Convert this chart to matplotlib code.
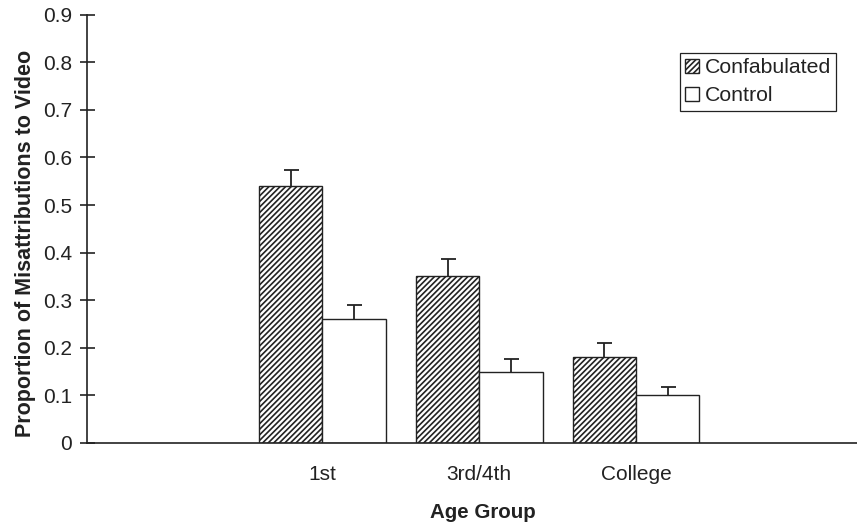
import numpy as np
import matplotlib
matplotlib.use("Agg")
import matplotlib.pyplot as plt

# data
groups = ["1st", "3rd/4th", "College"]
confabulated = [0.54, 0.35, 0.18]
confabulated_err = [0.033, 0.037, 0.030]
control = [0.26, 0.15, 0.10]
control_err = [0.031, 0.027, 0.018]

plt.rcParams["font.family"] = ["Liberation Sans", "DejaVu Sans"]
plt.rcParams["hatch.linewidth"] = 1.2
ink = "#222222"

fig = plt.figure(figsize=(8.57, 5.27), dpi=100)
ax = fig.add_axes([0.1019, 0.1594, 0.8981, 0.8127])

x = np.arange(1, len(groups) + 1)
w = 0.404
err_kw = dict(ecolor=ink, elinewidth=1.3, capsize=5.4, capthick=1.3)

b1 = ax.bar(x - w / 2, confabulated, w, yerr=[np.zeros(3), confabulated_err],
            color="white", edgecolor=ink, linewidth=1.0, hatch="//////",
            error_kw=err_kw, label="Confabulated")
b2 = ax.bar(x + w / 2, control, w, yerr=[np.zeros(3), control_err],
            color="white", edgecolor=ink, linewidth=1.0,
            error_kw=err_kw, label="Control")
# only the upper cap is drawn in the original
for b in (b1, b2):
    b.errorbar.lines[1][0].set_visible(False)

ax.set_xlim(-0.5, 4.41)
ax.set_ylim(0, 0.9)
ax.set_yticks(np.arange(0, 0.91, 0.1))
ax.set_yticklabels(["0"] + [f"{v:.1f}" for v in np.arange(0.1, 0.91, 0.1)])
ax.set_xticks(x)
ax.set_xticklabels(groups)

for s in ["top", "right"]:
    ax.spines[s].set_visible(False)
for s in ["left", "bottom"]:
    ax.spines[s].set_color(ink)
    ax.spines[s].set_linewidth(1.2)

ax.tick_params(axis="y", direction="inout", length=10.8, width=1.2,
               color=ink, labelcolor=ink, labelsize=15, pad=5.5)
ax.tick_params(axis="x", length=0, labelcolor=ink, labelsize=15, pad=16)

fig.text(25.5 / 857, 1 - 243 / 527, "Proportion of Misattributions to Video",
         rotation=90, ha="center", va="center", fontsize=15.5,
         fontweight="bold", color=ink)
fig.text(483 / 857, 1 - 513 / 527, "Age Group", ha="center", va="center",
         fontsize=14.8, fontweight="bold", color=ink)

leg = ax.legend(loc="upper right", bbox_to_anchor=(0.9727, 0.9106),
                borderaxespad=0, fontsize=15.3, handlelength=0.65,
                handleheight=0.65, handletextpad=0.25, borderpad=0.25,
                labelspacing=0.42, fancybox=False, framealpha=1,
                edgecolor=ink, labelcolor=ink)
leg.get_frame().set_linewidth(0.9)

fig.savefig("out.png", dpi=100)
